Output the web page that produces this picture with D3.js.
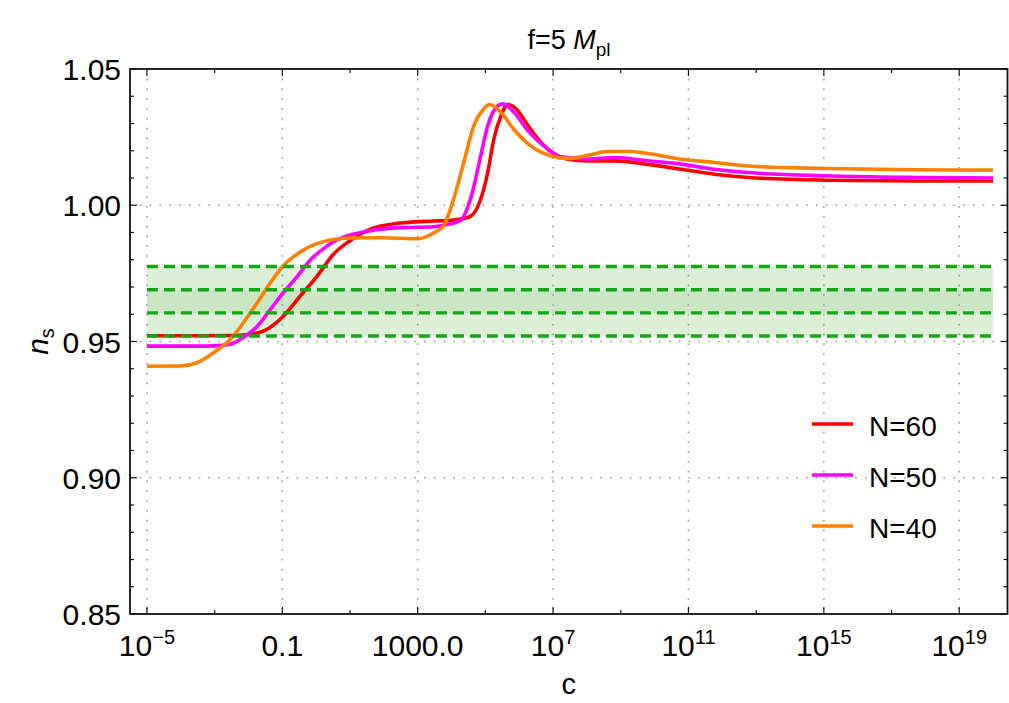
<!DOCTYPE html>
<html>
<head>
<meta charset="utf-8">
<script src="https://cdn.jsdelivr.net/npm/d3@7"></script>
<style>
  body { margin: 0; background: #fff; }
  text { font-family: "Liberation Sans", Arial, sans-serif; fill: #000; }
</style>
</head>
<body>
<div id="chart"></div>
<script>
// each point is [log10(c), n_s]
var n60 = [[-5,0.9521],[-3.5,0.9521],[-2.5,0.9522],[-2.04,0.9525],[-1.56,0.9538],[-0.97,0.9593],
  [-0.47,0.9667],[0.04,0.9742],[0.51,0.9820],[1.0,0.9870],[1.52,0.9908],[2.5,0.9935],[3.47,0.9942],
  [3.9,0.9944],[4.3,0.9950],[4.57,0.9960],[4.86,1.0022],[5.07,1.0121],[5.25,1.0243],[5.46,1.0328],
  [5.66,1.0370],[5.9,1.0355],[6.26,1.0292],[6.64,1.0231],[7.03,1.0188],[7.44,1.0169],[8.0,1.0163],
  [8.8,1.0163],[9.8,1.0150],[10.79,1.0132],[11.76,1.0114],[12.77,1.0102],[15.02,1.0092],
  [17.69,1.0089],[20,1.0089]]
var n50 = [[-5,0.9483],[-3.5,0.9483],[-3.04,0.9484],[-2.54,0.9490],[-2.15,0.9515],[-1.74,0.9556],
  [-1.35,0.9618],[-0.97,0.9679],[-0.55,0.9740],[-0.16,0.9801],[0.19,0.9838],[0.51,0.9866],
  [1.52,0.9905],[2.5,0.9918],[3.47,0.9921],[3.9,0.9930],[4.27,0.9945],[4.6,1.0040],[4.86,1.0181],
  [5.07,1.0292],[5.37,1.0365],[5.52,1.0372],[5.84,1.0342],[6.26,1.0273],[6.85,1.0206],[7.23,1.0178],
  [8.03,1.0170],[8.8,1.0175],[9.8,1.0163],[10.79,1.0151],[11.76,1.0132],[12.77,1.0120],
  [15.02,1.0108],[17.69,1.0102],[20,1.0100]]
var n40 = [[-5,0.9409],[-4.02,0.9410],[-3.52,0.9422],[-3.04,0.9458],[-2.54,0.9507],[-2.15,0.9569],
  [-1.74,0.9642],[-1.35,0.9716],[-0.97,0.9778],[-0.55,0.9822],[0.04,0.9860],[1.01,0.9880],
  [1.99,0.9881],[3.0,0.9877],[3.47,0.9898],[3.77,0.9925],[4.06,1.0022],[4.36,1.0157],[4.66,1.0292],
  [4.95,1.0353],[5.12,1.0370],[5.46,1.0341],[5.84,1.0279],[6.34,1.0218],[6.94,1.0181],[7.44,1.0172],
  [8.03,1.0183],[8.6,1.0197],[9.2,1.0197],[9.8,1.0190],[10.79,1.0169],[11.76,1.0157],[12.77,1.0144],
  [15.02,1.0135],[17.69,1.0130],[20,1.0129]]

var seriesNames = ["N=60","N=50","N=40"]
var seriesColors = ["#ff0000","#ff00ff","#ff8000"]

var bandLevels = [0.952, 0.9605, 0.969, 0.9775]   // dashed observational lines
var bandSpan = [-5, 20]                            // log10(c) range of the band

var xMajor = [-5,-1,3,7,11,15,19]
var xMajorBase = ["10","0.1","1000.0","10","10","10","10"]
var xMajorExp = ["\u22125","","","7","11","15","19"]
var xMinor = [-7,-3,1,5,9,13,17]
var yMajor = [0.85,0.90,0.95,1.00,1.05]
var yMajorLabels = ["0.85","0.90","0.95","1.00","1.05"]
var yGrid = [0.90,0.95,1.00]

var W = 1009, H = 703
var plot = {left: 130, right: 1010, top: 69, bottom: 614}
var frameRight = 1007.5

var svg = d3.select("#chart").append("svg")
  .attr("width", W).attr("height", H)

var x = d3.scaleLog()
  .domain([Math.pow(10,-5.5), Math.pow(10,20.5)])
  .range([plot.left, plot.right])
var y = d3.scaleLinear()
  .domain([0.85, 1.05])
  .range([plot.bottom, plot.top])

var xc = function(l){ return x(Math.pow(10,l)) }

svg.append("clipPath").attr("id","clip")
  .append("rect")
  .attr("x", plot.left).attr("y", plot.top)
  .attr("width", frameRight - plot.left).attr("height", plot.bottom - plot.top)

// shaded band: outer light, inner darker
var band = svg.append("g").attr("clip-path","url(#clip)")
band.append("rect")
  .attr("x", xc(bandSpan[0])).attr("width", xc(bandSpan[1]) - xc(bandSpan[0]))
  .attr("y", y(bandLevels[3])).attr("height", y(bandLevels[0]) - y(bandLevels[3]))
  .style("fill", "#dcf0d7")
band.append("rect")
  .attr("x", xc(bandSpan[0])).attr("width", xc(bandSpan[1]) - xc(bandSpan[0]))
  .attr("y", y(bandLevels[2])).attr("height", y(bandLevels[1]) - y(bandLevels[2]))
  .style("fill", "#c8e7c2")

// dotted grid
var grid = svg.append("g")
grid.selectAll("line.gx").data(xMajor).enter().append("line")
  .attr("x1", d => xc(d)).attr("x2", d => xc(d))
  .attr("y1", plot.top).attr("y2", plot.bottom)
  .style("stroke","#999").style("stroke-width",1.6)
  .style("stroke-dasharray","1.6,8.2")
grid.selectAll("line.gy").data(yGrid).enter().append("line")
  .attr("x1", plot.left).attr("x2", frameRight)
  .attr("y1", d => y(d)).attr("y2", d => y(d))
  .style("stroke","#999").style("stroke-width",1.6)
  .style("stroke-dasharray","1.6,8.2")

// curves
var line = d3.line()
  .x(d => xc(d[0]))
  .y(d => y(d[1]))
  .curve(d3.curveMonotoneX)

var curves = svg.append("g").attr("clip-path","url(#clip)")
;[n60, n50, n40].forEach(function(s, i){
  curves.append("path")
    .attr("d", line(s))
    .style("fill","none")
    .style("stroke", seriesColors[i])
    .style("stroke-width", 3.6)
    .style("stroke-linejoin","round")
})

// dashed band edges on top
svg.append("g").selectAll("line").data(bandLevels).enter().append("line")
  .attr("x1", xc(bandSpan[0])).attr("x2", xc(bandSpan[1]))
  .attr("y1", d => y(d)).attr("y2", d => y(d))
  .style("stroke","#12a812").style("stroke-width",3.4)
  .style("stroke-dasharray","11,6")

// frame
var frame = svg.append("g")
frame.append("rect")
  .attr("x", plot.left).attr("y", plot.top)
  .attr("width", frameRight - plot.left).attr("height", plot.bottom - plot.top)
  .style("fill","none").style("stroke","#111").style("stroke-width",1.8)

// inward ticks on all four sides
var yMinor = d3.range(0.86, 1.045, 0.01).filter(function(v){
  return yMajor.every(function(m){ return Math.abs(m - v) > 0.001 })
})
function tickLines(vals, len, isX){
  vals.forEach(function(v){
    if (isX) {
      var px = xc(v)
      if (px < plot.left || px > frameRight) return
      frame.append("line").attr("x1",px).attr("x2",px).attr("y1",plot.bottom).attr("y2",plot.bottom-len)
        .style("stroke","#111").style("stroke-width",1.2)
      frame.append("line").attr("x1",px).attr("x2",px).attr("y1",plot.top).attr("y2",plot.top+len)
        .style("stroke","#111").style("stroke-width",1.2)
    } else {
      var py = y(v)
      frame.append("line").attr("x1",plot.left).attr("x2",plot.left+len).attr("y1",py).attr("y2",py)
        .style("stroke","#111").style("stroke-width",1.2)
      frame.append("line").attr("x1",frameRight).attr("x2",frameRight-len).attr("y1",py).attr("y2",py)
        .style("stroke","#111").style("stroke-width",1.2)
    }
  })
}
tickLines(xMajor, 7, true)
tickLines(xMinor, 4, true)
tickLines(yMajor, 7, false)
tickLines(yMinor, 4, false)

// y tick labels
svg.append("g").selectAll("text").data(yMajor).enter().append("text")
  .attr("x", 121).attr("y", d => y(d) + 11)
  .attr("text-anchor","end")
  .style("font-size","30px")
  .text((d,i) => yMajorLabels[i])

// x tick labels
var xl = svg.append("g").selectAll("text").data(xMajor).enter().append("text")
  .attr("x", d => xc(d)).attr("y", 656)
  .attr("text-anchor","middle")
  .style("font-size","30px")
xl.append("tspan").text((d,i) => xMajorBase[i])
xl.append("tspan")
  .attr("dy", -12)
  .style("font-size","20px")
  .text((d,i) => xMajorExp[i])

// axis titles
svg.append("text")
  .attr("x", (plot.left + frameRight) / 2).attr("y", 694)
  .attr("text-anchor","middle")
  .style("font-size","29px")
  .text("c")

var yt = svg.append("text")
  .attr("transform", "translate(48," + ((plot.top + plot.bottom) / 2) + ") rotate(-90)")
  .attr("text-anchor","middle")
  .style("font-size","30px")
yt.append("tspan").style("font-style","italic").text("n")
yt.append("tspan").attr("dy", 6).style("font-size","20px").text("s")

// title
var title = svg.append("text")
  .attr("x", 569).attr("y", 49)
  .attr("text-anchor","middle")
  .style("font-size","27px")
title.append("tspan").text("f=5 ")
title.append("tspan").style("font-style","italic").text("M")
title.append("tspan").attr("dy", 7).style("font-size","19px").text("pl")

// legend
var legend = svg.append("g")
seriesNames.forEach(function(name, i){
  var ly = 424 + i * 51
  legend.append("line")
    .attr("x1", 812).attr("x2", 853).attr("y1", ly).attr("y2", ly)
    .style("stroke", seriesColors[i]).style("stroke-width", 3.4)
  legend.append("text")
    .attr("x", 869).attr("y", ly + 12)
    .style("font-size","28px")
    .text(name)
})
</script>
</body>
</html>
